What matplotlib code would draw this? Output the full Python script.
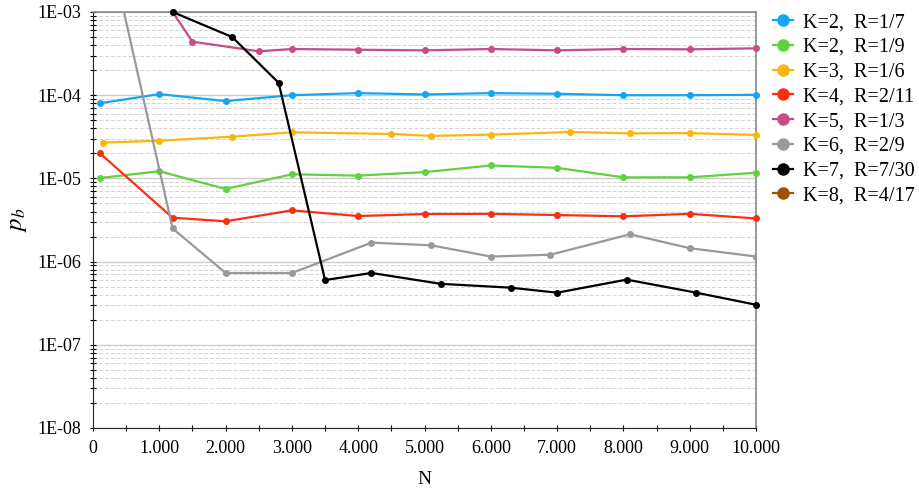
import numpy as np
import matplotlib.pyplot as plt
from matplotlib.ticker import FuncFormatter, LogLocator, MultipleLocator
from matplotlib.lines import Line2D

plt.rcParams['font.family'] = ['Liberation Serif', 'DejaVu Serif']
plt.rcParams['mathtext.fontset'] = 'stix'

# ---- data ----
labels = ["K=2,  R=1/7", "K=2,  R=1/9", "K=3,  R=1/6", "K=4,  R=2/11",
          "K=5,  R=1/3", "K=6,  R=2/9", "K=7,  R=7/30", "K=8,  R=4/17"]
colors = ["#14A6F5", "#62D13F", "#F9B70C", "#F92F14",
          "#C44D88", "#999999", "#000000", "#9A5205"]

n_k2a = [100, 1000, 2000, 3000, 4000, 5000, 6000, 7000, 8000, 9000, 10000]
pb_k2a = [8.0e-5, 1.03e-4, 8.5e-5, 1.0e-4, 1.06e-4, 1.02e-4, 1.06e-4, 1.04e-4, 1.0e-4, 1.0e-4, 1.01e-4]

n_k2b = [100, 1000, 2000, 3000, 4000, 5000, 6000, 7000, 8000, 9000, 10000]
pb_k2b = [1.01e-5, 1.22e-5, 7.46e-6, 1.12e-5, 1.08e-5, 1.19e-5, 1.43e-5, 1.34e-5, 1.03e-5, 1.03e-5, 1.17e-5]

n_k3 = [150, 1000, 2100, 3000, 4500, 5100, 6000, 7200, 8100, 9000, 10000]
pb_k3 = [2.69e-5, 2.84e-5, 3.17e-5, 3.58e-5, 3.42e-5, 3.24e-5, 3.36e-5, 3.61e-5, 3.48e-5, 3.5e-5, 3.33e-5]

n_k4 = [100, 1200, 2000, 3000, 4000, 5000, 6000, 7000, 8000, 9000, 10000]
pb_k4 = [2.02e-5, 3.37e-6, 3.05e-6, 4.13e-6, 3.53e-6, 3.73e-6, 3.75e-6, 3.63e-6, 3.5e-6, 3.75e-6, 3.3e-6]

n_k5 = [1200, 1500, 2500, 3000, 4000, 5000, 6000, 7000, 8000, 9000, 10000]
pb_k5 = [1.0e-3, 4.4e-4, 3.37e-4, 3.59e-4, 3.52e-4, 3.46e-4, 3.59e-4, 3.46e-4, 3.59e-4, 3.56e-4, 3.66e-4]

n_k6 = [100, 1200, 2000, 3000, 4200, 5100, 6000, 6900, 8100, 9000, 10000]
pb_k6 = [2.0e-2, 2.51e-6, 7.3e-7, 7.3e-7, 1.69e-6, 1.57e-6, 1.15e-6, 1.21e-6, 2.13e-6, 1.45e-6, 1.15e-6]

n_k7 = [1200, 2100, 2800, 3500, 4200, 5250, 6300, 7000, 8050, 9100, 10000]
pb_k7 = [1.0e-3, 5.0e-4, 1.41e-4, 6.0e-7, 7.3e-7, 5.4e-7, 4.86e-7, 4.23e-7, 6.07e-7, 4.23e-7, 3.03e-7]

n_k8 = []
pb_k8 = []

series = [(n_k2a, pb_k2a), (n_k2b, pb_k2b), (n_k3, pb_k3), (n_k4, pb_k4),
          (n_k5, pb_k5), (n_k6, pb_k6), (n_k7, pb_k7), (n_k8, pb_k8)]

fig = plt.figure(figsize=(9.2, 4.88), dpi=100)
ax = fig.add_axes([93/920, 60/488, 663/920, 416/488])

ax.set_yscale('log')
ax.set_xlim(0, 10000)
ax.set_ylim(1e-8, 1e-3)

# grid
ax.yaxis.set_minor_locator(LogLocator(base=10, subs=np.arange(2, 10)))
ax.xaxis.set_major_locator(MultipleLocator(1000))
ax.xaxis.set_minor_locator(MultipleLocator(500))
ax.grid(which='major', axis='y', color='#cccccc', lw=1.0)
ax.grid(which='minor', axis='y', color='#d4d4d4', lw=0.7, ls=(0, (4, 2)))
ax.set_axisbelow(True)

handles = []
for (xs, ys), c, lab in zip(series, colors, labels):
    if len(xs):
        clip = max(ys) <= 1e-3
        ax.plot(xs, ys, color=c, lw=1.6, marker='o', ms=4, clip_on=not clip, zorder=3)
    handles.append(Line2D([], [], color=c, lw=1.6, marker='o', ms=8, label=lab))

ax.yaxis.set_major_formatter(FuncFormatter(lambda v, p: "1E-%02d" % round(-np.log10(v))))
ax.xaxis.set_major_formatter(FuncFormatter(lambda v, p: "0" if v == 0 else "{:,}".format(int(v)).replace(",", ".")))
ax.tick_params(which='both', direction='inout', length=5, width=0.8, labelsize=13, pad=6)
ax.tick_params(which='minor', length=4)

for s in ['left', 'bottom']:
    ax.spines[s].set_color('#222222')
for s in ['top', 'right']:
    ax.spines[s].set_color('#888888')
    ax.spines[s].set_linewidth(1.2)

ax.set_xlabel("N", fontsize=14, labelpad=10)
ax.set_ylabel(r"$p_b$", fontsize=18, labelpad=6)

fig.legend(handles=handles, loc='upper left', bbox_to_anchor=(763/920, 1 - 3/488),
           frameon=False, fontsize=14.5, handlelength=1.0, labelspacing=0.28,
           handletextpad=0.5, borderaxespad=0.2, borderpad=0.3)

fig.savefig("out.png", dpi=100)
